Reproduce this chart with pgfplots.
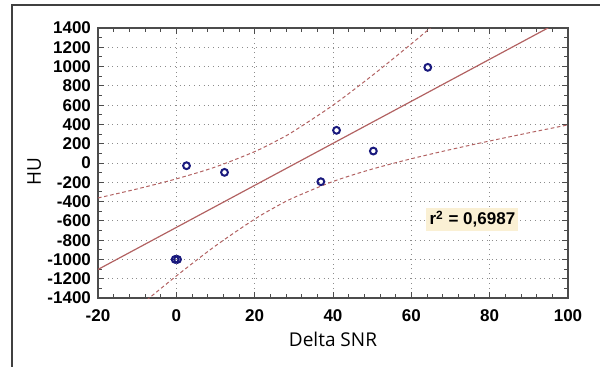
\documentclass[border=0pt]{standalone}
\usepackage{pgfplots}
\pgfplotsset{compat=1.18}
\usepackage{fontspec}
\setmainfont{Liberation Sans}
\newfontfamily\labelfont{Open Sans}
\definecolor{fitred}{RGB}{178,98,98}
\definecolor{navy}{RGB}{25,25,125}
\definecolor{boxfill}{RGB}{250,240,212}
\begin{document}
\begin{tikzpicture}
\path[use as bounding box] (-49pt,-34pt) rectangle (251pt,149pt);
\clip (-49pt,-34pt) rectangle (251pt,149pt);
\draw[line width=1pt, color=black!75] (-43pt,-40pt) -- (-43pt,146.5pt) -- (260pt,146.5pt);
\begin{axis}[scale only axis, width=235pt, height=135pt, at={(0,0)}, anchor=south west,
 xmin=-20,xmax=100,ymin=-1400,ymax=1400,
 xtick={-20,0,...,100}, ytick={-1400,-1200,...,1400},
 minor x tick num=4, minor y tick num=1,
 tick align=inside, tick pos=both,
 major tick length=3pt, minor tick length=2pt,
 grid=major, major grid style={dotted, gray!90},
 axis line style={black!70, line width=0.8pt},
 tick style={black!70, line width=0.5pt},
 ticklabel style={font=\bfseries\fontsize{8.5}{9.5}\selectfont},
 xticklabel style={yshift=-2.3pt},
 /pgf/number format/assume math mode=true,
 /pgf/number format/1000 sep={},
 xlabel={Delta SNR}, ylabel={HU},
 label style={font=\labelfont\fontsize{9.5}{11}\selectfont},
 xlabel style={at={(axis description cs:0.5,-0.152)}, anchor=center},
 ylabel style={at={(axis description cs:-0.136,0.47)}, anchor=center},
 clip=true,
]
\addplot[fitred, line width=0.5pt, dash pattern=on 1.8pt off 1.3pt, smooth] coordinates {
(-20,-362.6) (-10,-268.7) (0,-164.4) (10,-40.8) (20,118.1) (25.9,236.3) (30,330.7) (40,599.4) (50,906.9) (60,1235.9) (70,1576.5) (80,1923.7)};
\addplot[fitred, line width=0.5pt, dash pattern=on 1.8pt off 1.3pt, smooth] coordinates {
(-10,-1503.3) (0,-1171.6) (10,-859.2) (20,-582.1) (25.9,-443.1) (30,-358.7) (40,-191.4) (50,-62.9) (60,44.1) (70,139.5) (80,228.3) (90,313.1) (100,395.3)};
\addplot[fitred, line width=0.6pt] coordinates {(-20,-1104) (100,1512)};
\addplot[only marks, mark=o, mark size=1.7pt, navy, line width=1pt] coordinates {
(-0.3,-1000) (0.3,-1000) (2.6,-28) (12.3,-97) (36.9,-194) (40.9,339) (50.3,124) (64.2,992)};
\node[fill=boxfill, inner sep=1.6pt, font=\bfseries\fontsize{8.5}{10}\selectfont] at (axis cs:75.6,-581) {r\textsuperscript{2} = 0,6987};
\end{axis}
\end{tikzpicture}
\end{document}
